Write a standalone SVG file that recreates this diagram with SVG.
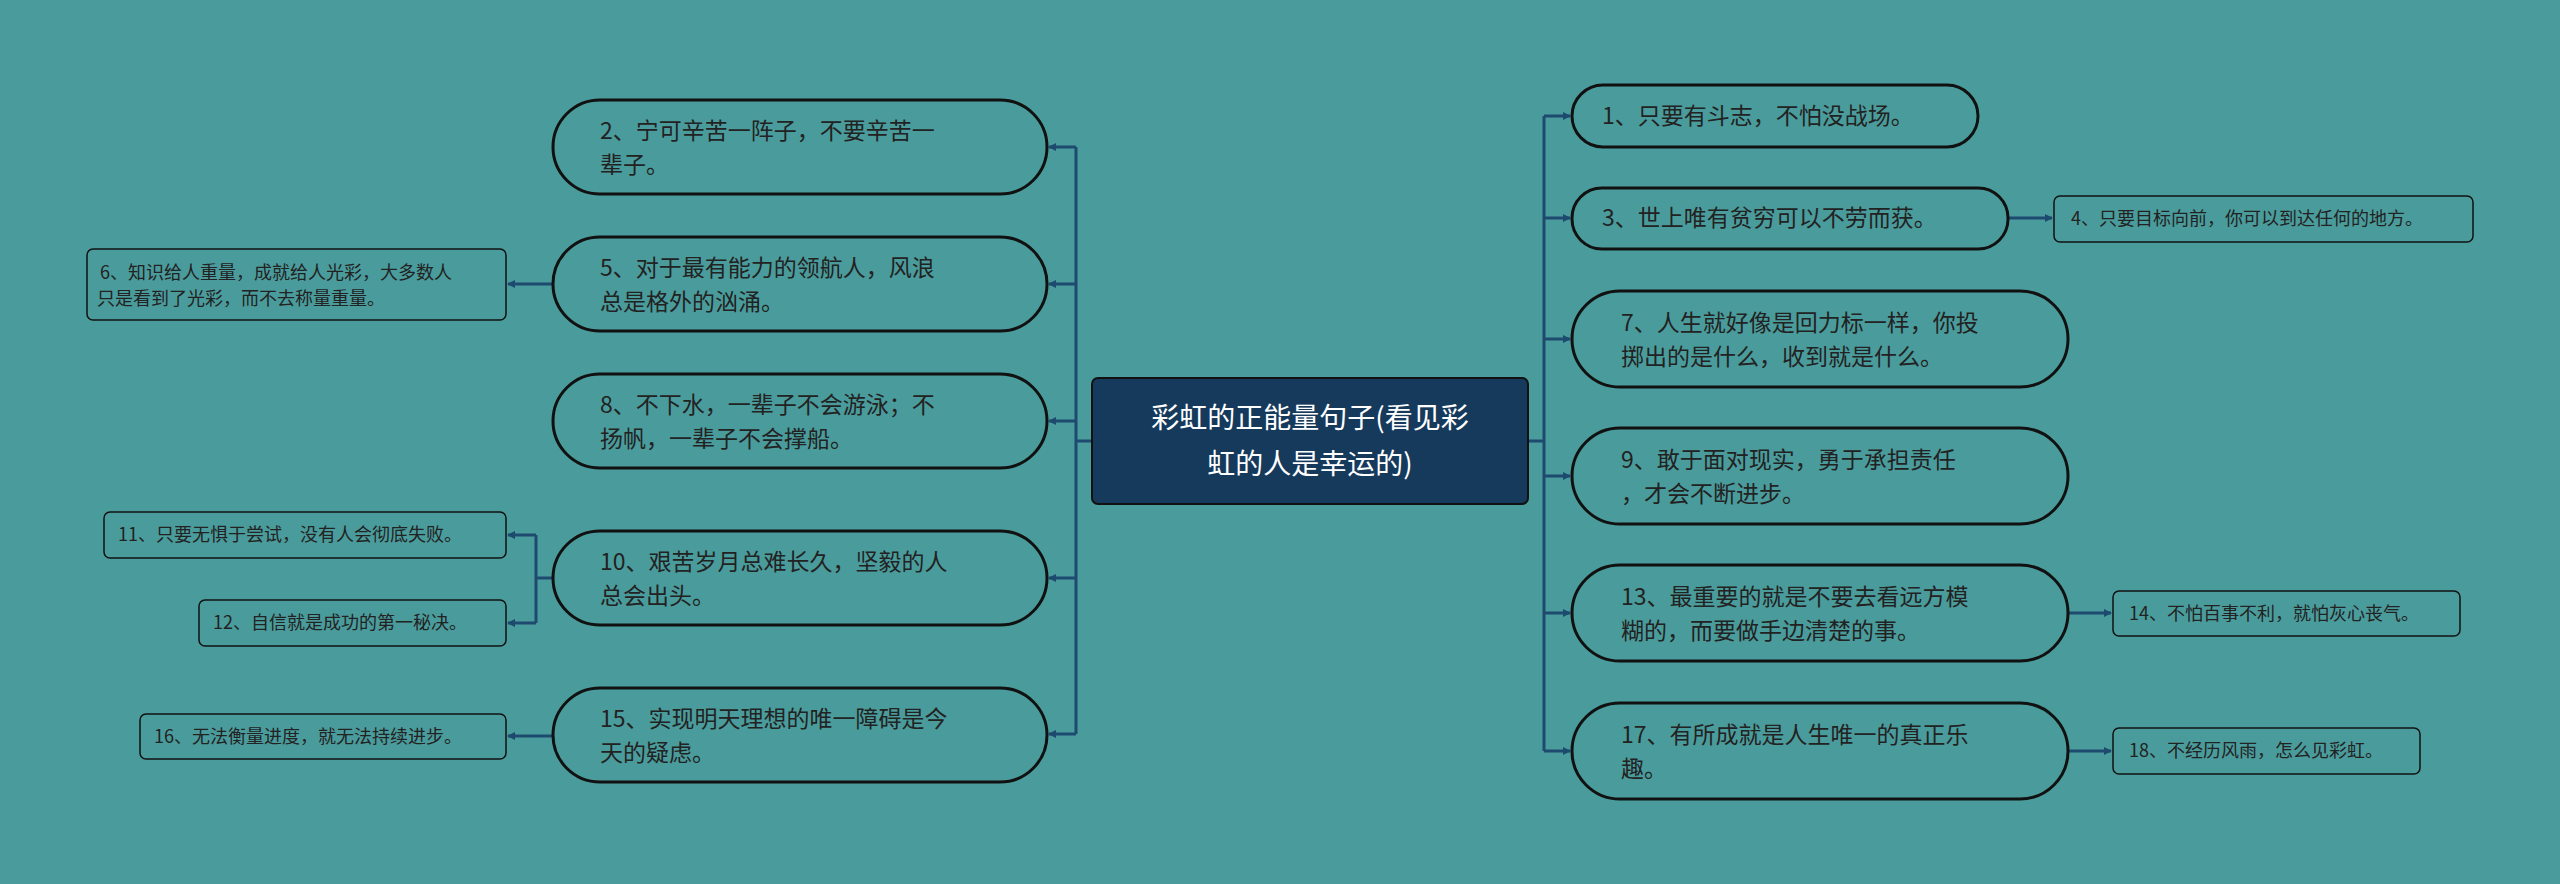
<svg xmlns="http://www.w3.org/2000/svg" width="2560" height="884" viewBox="0 0 2560 884">
<style>
.p{fill:#4a9c9c;stroke:#111;stroke-width:3}
.c{fill:#4a9c9c;stroke:#111;stroke-width:1.5}
.t{font-family:"Noto Sans CJK SC","Liberation Sans",sans-serif;font-size:23px;fill:#222}
.s{font-family:"Noto Sans CJK SC","Liberation Sans",sans-serif;font-size:18px;fill:#222}
.w{font-family:"Noto Sans CJK SC","Liberation Sans",sans-serif;font-size:28px;fill:#fff}
.l{fill:none;stroke:#1d4a6e;stroke-width:3}
</style>
<defs><marker id="a" markerWidth="8" markerHeight="8" refX="7" refY="4" orient="auto" markerUnits="userSpaceOnUse"><path d="M0,0L8,4L0,8z" fill="#1d4a6e"/></marker></defs>
<rect width="2560" height="884" fill="#4a9c9c"/>
<g id="connectors">
<path class="l" d="M1092,441H1076M1076,147V734"/>
<path class="l" marker-end="url(#a)" d="M1076,147H1049"/>
<path class="l" marker-end="url(#a)" d="M1076,284H1049"/>
<path class="l" marker-end="url(#a)" d="M1076,421H1049"/>
<path class="l" marker-end="url(#a)" d="M1076,578H1049"/>
<path class="l" marker-end="url(#a)" d="M1076,734H1049"/>
<path class="l" marker-end="url(#a)" d="M552,284H508"/>
<path class="l" d="M552,578H536M536,535V623"/>
<path class="l" marker-end="url(#a)" d="M536,535H508"/>
<path class="l" marker-end="url(#a)" d="M536,623H508"/>
<path class="l" marker-end="url(#a)" d="M552,736H508"/>
<path class="l" d="M1528,441H1544M1544,116V751"/>
<path class="l" marker-end="url(#a)" d="M1544,116H1570"/>
<path class="l" marker-end="url(#a)" d="M1544,218H1570"/>
<path class="l" marker-end="url(#a)" d="M1544,339H1570"/>
<path class="l" marker-end="url(#a)" d="M1544,476H1570"/>
<path class="l" marker-end="url(#a)" d="M1544,613H1570"/>
<path class="l" marker-end="url(#a)" d="M1544,751H1570"/>
<path class="l" marker-end="url(#a)" d="M2008,218H2052"/>
<path class="l" marker-end="url(#a)" d="M2068,613H2111"/>
<path class="l" marker-end="url(#a)" d="M2068,751H2111"/>
</g>
<g id="center"><rect x="1092" y="378" width="436" height="126" rx="6" fill="#163a5c" stroke="#111" stroke-width="2"/>
<text class="w" text-anchor="middle"><tspan x="1310" y="428">彩虹的正能量句子(看见彩</tspan><tspan x="1310" y="474">虹的人是幸运的)</tspan></text></g>
<g id="n2"><rect class="p" x="553" y="100" width="494" height="94" rx="47"/><text class="t"><tspan x="600" y="139">2、宁可辛苦一阵子，不要辛苦一</tspan><tspan x="600" y="173">辈子。</tspan></text></g>
<g id="n5"><rect class="p" x="553" y="237" width="494" height="94" rx="47"/><text class="t"><tspan x="600" y="276">5、对于最有能力的领航人，风浪</tspan><tspan x="600" y="310">总是格外的汹涌。</tspan></text></g>
<g id="n8"><rect class="p" x="553" y="374" width="494" height="94" rx="47"/><text class="t"><tspan x="600" y="413">8、不下水，一辈子不会游泳；不</tspan><tspan x="600" y="447">扬帆，一辈子不会撑船。</tspan></text></g>
<g id="n10"><rect class="p" x="553" y="531" width="494" height="94" rx="47"/><text class="t"><tspan x="600" y="570">10、艰苦岁月总难长久，坚毅的人</tspan><tspan x="600" y="604">总会出头。</tspan></text></g>
<g id="n15"><rect class="p" x="553" y="688" width="494" height="94" rx="47"/><text class="t"><tspan x="600" y="727">15、实现明天理想的唯一障碍是今</tspan><tspan x="600" y="761">天的疑虑。</tspan></text></g>
<g id="n6"><rect class="c" x="87" y="249" width="419" height="71" rx="6"/><text class="s"><tspan x="100" y="279">6、知识给人重量，成就给人光彩，大多数人</tspan><tspan x="97" y="305">只是看到了光彩，而不去称量重量。</tspan></text></g>
<g id="n11"><rect class="c" x="104" y="512" width="402" height="46" rx="6"/><text class="s" x="118" y="541">11、只要无惧于尝试，没有人会彻底失败。</text></g>
<g id="n12"><rect class="c" x="199" y="600" width="307" height="46" rx="6"/><text class="s" x="213" y="629">12、自信就是成功的第一秘决。</text></g>
<g id="n16"><rect class="c" x="140" y="714" width="366" height="45" rx="6"/><text class="s" x="154" y="743">16、无法衡量进度，就无法持续进步。</text></g>
<g id="n1"><rect class="p" x="1572" y="85" width="406" height="62" rx="31"/><text class="t" x="1602" y="124">1、只要有斗志，不怕没战场。</text></g>
<g id="n3"><rect class="p" x="1572" y="188" width="436" height="61" rx="30"/><text class="t" x="1602" y="226">3、世上唯有贫穷可以不劳而获。</text></g>
<g id="n7"><rect class="p" x="1572" y="291" width="496" height="96" rx="48"/><text class="t"><tspan x="1621" y="331">7、人生就好像是回力标一样，你投</tspan><tspan x="1621" y="365">掷出的是什么，收到就是什么。</tspan></text></g>
<g id="n9"><rect class="p" x="1572" y="428" width="496" height="96" rx="48"/><text class="t"><tspan x="1621" y="468">9、敢于面对现实，勇于承担责任</tspan><tspan x="1621" y="502">，才会不断进步。</tspan></text></g>
<g id="n13"><rect class="p" x="1572" y="565" width="496" height="96" rx="48"/><text class="t"><tspan x="1621" y="605">13、最重要的就是不要去看远方模</tspan><tspan x="1621" y="639">糊的，而要做手边清楚的事。</tspan></text></g>
<g id="n17"><rect class="p" x="1572" y="703" width="496" height="96" rx="48"/><text class="t"><tspan x="1621" y="743">17、有所成就是人生唯一的真正乐</tspan><tspan x="1621" y="777">趣。</tspan></text></g>
<g id="n4"><rect class="c" x="2054" y="196" width="419" height="46" rx="6"/><text class="s" x="2071" y="225">4、只要目标向前，你可以到达任何的地方。</text></g>
<g id="n14"><rect class="c" x="2113" y="591" width="347" height="45" rx="6"/><text class="s" x="2129" y="620">14、不怕百事不利，就怕灰心丧气。</text></g>
<g id="n18"><rect class="c" x="2113" y="728" width="307" height="46" rx="6"/><text class="s" x="2129" y="757">18、不经历风雨，怎么见彩虹。</text></g>
</svg>
